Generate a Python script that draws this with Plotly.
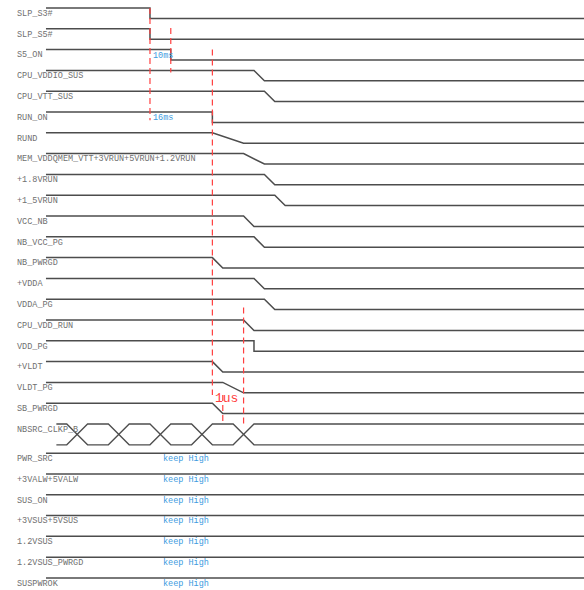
import plotly.graph_objects as go

# signal names (top block: signals that fall during power-down)
signals = ["SLP_S3#", "SLP_S5#", "S5_ON", "CPU_VDDIO_SUS", "CPU_VTT_SUS", "RUN_ON",
           "RUND", "MEM_VDDQMEM_VTT+3VRUN+5VRUN+1.2VRUN", "+1.8VRUN", "+1_5VRUN",
           "VCC_NB", "NB_VCC_PG", "NB_PWRGD", "+VDDA", "VDDA_PG", "CPU_VDD_RUN",
           "VDD_PG", "+VLDT", "VLDT_PG", "SB_PWRGD"]
# fall start / fall end, in time units (0 = SLP_S3# falls)
fall_start = [0, 0, 2, 10, 11, 6, 6, 9, 11, 12, 9, 10, 6, 10, 11, 9, 10, 6, 7, 6]
fall_end = [0, 0, 2, 11, 12, 6, 9, 11, 12, 13, 10, 11, 7, 11, 12, 10, 10, 7, 9, 7]

clock_name = "NBSRC_CLKP_B"
clock_cross = [-7, -3, 1, 5, 9]

keep_high = ["PWR_SRC", "+3VALW+5VALW", "SUS_ON", "+3VSUS+5VSUS", "1.2VSUS",
             "1.2VSUS_PWRGD", "SUSPWROK"]

# timing markers: time, from row, to row
markers_t = [0, 2, 6, 7, 9]
markers_y0 = [0, 0.96, 2.0, 18.6, 14.4]
markers_y1 = [5.4, 3.1, 18.6, 20.05, 20.05]
notes = [("10ms", 0.1, 2.3), ("16ms", 0.1, 5.3)]

T0, T1 = -10, 42
LINE = "#4d4d4d"
LBL = "#707070"
BLUE = "#3d9be0"
RED = "#ff4040"
MONO = "Liberation Mono, Courier New, monospace"

fig = go.Figure()

for i, name in enumerate(signals):
    fig.add_trace(go.Scatter(
        x=[T0, fall_start[i], fall_end[i], T1],
        y=[i, i, i + 0.5, i + 0.5],
        mode="lines", line=dict(color=LINE, width=1.5), hoverinfo="skip"))
    fig.add_annotation(x=-13, y=i + 0.28, text=name, showarrow=False, xanchor="left",
                       font=dict(family=MONO, size=8.5, color=LBL))

# clock: two complementary lines crossing
row = len(signals)
xa, ya, xb, yb = [-9], [row], [-9], [row + 1]
lvl = 0
for c in clock_cross:
    xa += [c - 1, c + 1]
    ya += [row + lvl, row + 1 - lvl]
    xb += [c - 1, c + 1]
    yb += [row + 1 - lvl, row + lvl]
    lvl = 1 - lvl
xa.append(T1); ya.append(ya[-1])
xb.append(T1); yb.append(yb[-1])
for xs, ys in [(xa, ya), (xb, yb)]:
    fig.add_trace(go.Scatter(x=xs, y=ys, mode="lines",
                             line=dict(color=LINE, width=1.3), hoverinfo="skip"))
fig.add_annotation(x=-13, y=row + 0.28, text=clock_name, showarrow=False, xanchor="left",
                   font=dict(family=MONO, size=8.5, color=LBL))

for k, name in enumerate(keep_high):
    yk = row + 1.4 + k
    fig.add_trace(go.Scatter(x=[T0, T1], y=[yk, yk], mode="lines",
                             line=dict(color=LINE, width=1.5), hoverinfo="skip"))
    fig.add_annotation(x=-13, y=yk + 0.28, text=name, showarrow=False, xanchor="left",
                       font=dict(family=MONO, size=8.5, color=LBL))
    fig.add_annotation(x=1.05, y=yk + 0.28, text="keep High", showarrow=False,
                       xanchor="left", font=dict(family=MONO, size=8.5, color=BLUE))

for t, a, b in zip(markers_t, markers_y0, markers_y1):
    fig.add_trace(go.Scatter(x=[t, t], y=[a, b], mode="lines",
                             line=dict(color=RED, width=1.2, dash="6px,4px"),
                             hoverinfo="skip"))

for txt, t, y in notes:
    fig.add_annotation(x=t, y=y, text=txt, showarrow=False, xanchor="left",
                       font=dict(family=MONO, size=8.5, color=BLUE))
fig.add_annotation(x=6.05, y=18.75, text="1us", showarrow=False, xanchor="left",
                   font=dict(family=MONO, size=13, color=RED))

fig.update_layout(
    width=584, height=590, margin=dict(l=0, r=0, t=0, b=0),
    paper_bgcolor="white", plot_bgcolor="white", showlegend=False,
    xaxis=dict(range=[-14.42, 41.73], visible=False, fixedrange=True),
    yaxis=dict(range=[27.98, -0.385], visible=False, fixedrange=True),
)

# drop the default page margin so the figure sits at the window's corner
fig.write_html("out.html", config={"displayModeBar": False},
               post_script="document.body.style.margin='0';")
